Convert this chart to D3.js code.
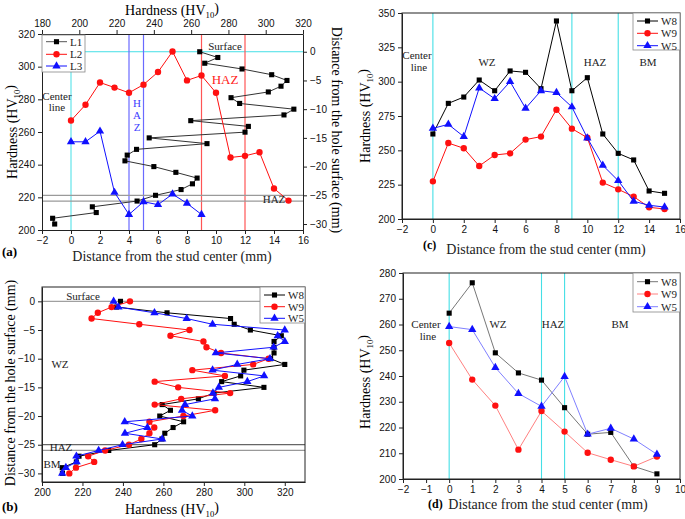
<!DOCTYPE html>
<html><head><meta charset="utf-8">
<script src="https://cdn.jsdelivr.net/npm/d3@7"></script>
<style>body{margin:0;background:#fff}svg{display:block}</style>
</head><body>
<svg id="chart" width="685" height="519"></svg>
<script>
// ---------------- DATA ----------------
// Panel (a)
const depthA_L1 = [0,-1,-2,-3,-4,-5,-6,-7,-8,-9,-10,-11,-12,-13,-14,-15,-16,-17,-18,-19,-20,-21,-22,-23,-24,-25,-26,-27,-28,-29,-30];
const hardA_L1 = [264.6,274.3,267.3,287.3,303.2,311.4,308.2,301.4,281.4,286,315.1,309.8,259.8,290.7,288.9,237.5,268.5,230.7,225.7,224.5,240,251.8,263.2,260.7,254.6,240.9,231,207,209.1,185.7,186.8];
const posA_L2 = [0,1,2,3,4,5,6,7,8,9,10,11,12,13,14,15];
const hardA_L2 = [267,276.7,290.3,287.2,284,289,296.7,309.3,291.6,294.6,284,244.4,245.4,247.6,225.4,218];
const posA_L3 = [0,1,2,3,4,5,6,7,8,9];
const hardA_L3 = [254,254,260.5,223,209.5,217.3,215.5,222,216.3,209.5];
const ticksA_bottom = [-2,0,2,4,6,8,10,12,14,16];
const ticksA_left = [200,220,240,260,280,300,320];
const ticksA_top = [180,200,220,240,260,280,300,320];
const ticksA_right = [0,-5,-10,-15,-20,-25,-30];

// Panel (b)
const depthB = [0,-1,-2,-3,-4,-5,-6,-7,-8,-9,-10,-11,-12,-13,-14,-15,-16,-17,-18,-19,-20,-21,-22,-23,-24,-25,-26,-27,-28,-29,-30];
const hardB_W8 = [238.8,236.8,261.8,293.2,295,303,318.3,314.7,314.7,314.7,313,320,299.8,298.2,288.8,309.7,285,277.3,259.4,263.5,258.2,270,264.8,260.7,259.3,255.7,233,218.3,217,210,210.1];
const hardB_W9 = [243.5,234.4,227.6,224.5,248.1,272.9,263.5,279.8,281.3,288.5,312,304.4,274.3,290.4,255.7,267.3,293,268.8,255.7,285.6,269.9,253.1,255.5,253.1,249.1,243,231.2,222.8,225.8,216.8,213.5];
const hardB_W5 = [235.4,237.8,255.6,271.5,284.3,320,316.5,320,314.5,285.9,312.7,296.5,284.3,309.8,301.5,287.4,284.5,285.5,270.7,269.2,274.3,240.9,252.1,241,259.4,239.8,228,217,217.1,211.8,210];
const ticksB_x = [200,220,240,260,280,300,320];
const ticksB_y = [0,-5,-10,-15,-20,-25,-30];

// Panel (c)
const posC = [0,1,2,3,4,5,6,7,8,9,10,11,12,13,14,15];
const hardC_W8 = [261.9,284.2,288.8,301.2,293.4,307.8,306.8,294.9,344.2,293.4,302.9,261.9,247.8,243,220.4,218.7];
const hardC_W9 = [227.4,255.3,251.5,238.6,246.6,247.8,257.8,260,279.6,265.8,259.2,226.5,221.6,216.3,208.5,207.3];
const hardC_W5 = [266,268.9,260,295.4,287.6,300,280.6,293.4,292,281.6,259,239.1,227.9,212.9,210,208.7];
const ticksC_x = [-2,0,2,4,6,8,10,12,14,16];
const ticksC_y = [200,225,250,275,300,325,350];

// Panel (d)
const posD = [0,1,2,3,4,5,6,7,8,9];
const hardD_W8 = [264.4,276.2,249,241.2,238.4,227.7,217.4,218.1,204.9,202];
const hardD_W9 = [252.8,238.6,228.5,211.4,226.4,218.4,210.2,207.5,204.9,208.7];
const hardD_W5 = [259.2,258,243.3,233.2,228.2,239.8,217.4,219.7,215.5,209.6];
const ticksD_x = [-2,-1,0,1,2,3,4,5,6,7,8,9,10];
const ticksD_y = [200,210,220,230,240,250,260,270,280];

const seriesNames = ["W8","W9","W5"];
const namesA = ["L1","L2","L3"];

// ---------------- STYLE ----------------
const SANS = "'Liberation Sans', Arial, sans-serif";
const SERIF = "'Liberation Serif', 'Times New Roman', serif";
const CYAN = "#45dfe6";
const svg = d3.select("#chart");

function styleAxis(g){
  g.selectAll("text").attr("font-family", SANS).attr("font-size", "10px").attr("fill","#111");
  g.selectAll("line").attr("stroke","#222");
  g.select(".domain").attr("stroke","#222");
}
function hvText(sel){
  sel.append("tspan").text("Hardness (HV");
  sel.append("tspan").attr("font-size","0.62em").attr("dy","0.4em").text("10");
  sel.append("tspan").attr("dy","-0.4em").text(")");
}
function label(x, y, txt, opts={}){
  return svg.append("text").attr("x",x).attr("y",y)
    .attr("text-anchor", opts.anchor || "middle")
    .attr("font-family", opts.family || SERIF)
    .attr("font-size", opts.size || "11px")
    .attr("fill", opts.fill || "#222")
    .text(txt);
}
const symSquare = d3.symbol().type(d3.symbolSquare).size(26);
const symCircle = d3.symbol().type(d3.symbolCircle).size(32);
const symTri = d3.symbol().type(d3.symbolTriangle).size(30);

function drawSeries(g, pts, color, lineColor, sym){
  const line = d3.line().x(d=>d[0]).y(d=>d[1]);
  g.append("path").attr("d", line(pts)).attr("fill","none").attr("stroke",lineColor).attr("stroke-width",1);
  g.selectAll(null).data(pts).enter().append("path")
    .attr("d", sym).attr("transform", d=>`translate(${d[0]},${d[1]})`).attr("fill", color);
}
function legend(x0, y0, w, h, ys, names, colors, lineColors, syms){
  const g = svg.append("g");
  g.append("rect").attr("x",x0).attr("y",y0).attr("width",w).attr("height",h)
    .attr("fill","#fff").attr("stroke","#888").attr("stroke-width",0.8);
  names.forEach((n,i)=>{
    g.append("line").attr("x1",x0+4).attr("x2",x0+25).attr("y1",ys[i]).attr("y2",ys[i])
      .attr("stroke",lineColors[i]).attr("stroke-width",1);
    g.append("path").attr("d",syms[i]).attr("transform",`translate(${x0+14.5},${ys[i]})`).attr("fill",colors[i]);
    g.append("text").attr("x",x0+28).attr("y",ys[i]+4).attr("font-family",SERIF).attr("font-size","11px")
      .attr("fill","#222").text(n);
  });
}

// ---------------- PANEL (a) ----------------
{
  const L=42, R=303, T=34, B=230;
  const x = d3.scaleLinear([-2,16],[L,R]);
  const y = d3.scaleLinear([200,320],[B,T]);
  const xTop = d3.scaleLinear([180,320],[L,R]);
  const yRight = d3.scaleLinear([-31.04,3.09],[B,T]);
  const g = svg.append("g");
  g.append("line").attr("x1",L).attr("x2",R).attr("y1",yRight(0)).attr("y2",yRight(0)).attr("stroke",CYAN).attr("stroke-width",1);
  g.append("line").attr("x1",x(0)).attr("x2",x(0)).attr("y1",yRight(0)).attr("y2",B).attr("stroke",CYAN).attr("stroke-width",1);
  [4,5].forEach(v=>g.append("line").attr("x1",x(v)).attr("x2",x(v)).attr("y1",T).attr("y2",B).attr("stroke","#6a6aff").attr("stroke-width",1.2));
  [9,12].forEach(v=>g.append("line").attr("x1",x(v)).attr("x2",x(v)).attr("y1",T).attr("y2",B).attr("stroke","#ff5555").attr("stroke-width",1.2));
  [-25,-26].forEach(v=>g.append("line").attr("x1",L).attr("x2",R).attr("y1",yRight(v)).attr("y2",yRight(v)).attr("stroke","#9a9a9a").attr("stroke-width",1.3));
  g.append("g").attr("transform",`translate(0,${B})`).call(d3.axisBottom(x).tickValues(ticksA_bottom).tickSize(4).tickSizeOuter(0)).call(styleAxis);
  g.append("g").attr("transform",`translate(${L},0)`).call(d3.axisLeft(y).tickValues(ticksA_left).tickSize(4).tickSizeOuter(0)).call(styleAxis);
  g.append("g").attr("transform",`translate(0,${T})`).call(d3.axisTop(xTop).tickValues(ticksA_top).tickSize(4).tickSizeOuter(0)).call(styleAxis);
  g.append("g").attr("transform",`translate(${R},0)`).call(d3.axisRight(yRight).tickValues(ticksA_right).tickSize(4).tickSizeOuter(0)).call(styleAxis);
  drawSeries(g, hardA_L1.map((h,i)=>[xTop(h), yRight(depthA_L1[i])]), "#000", "#333", symSquare);
  drawSeries(g, hardA_L2.map((h,i)=>[x(posA_L2[i]), y(h)]), "#ff1010", "#ff1010", symCircle);
  drawSeries(g, hardA_L3.map((h,i)=>[x(posA_L3[i]), y(h)]), "#1010ff", "#1010ff", symTri);
  label(57, 100, "Center"); label(57, 111, "line");
  label(137, 107, "H", {fill:"#4040ff"}); label(137, 119, "A", {fill:"#4040ff"}); label(137, 131, "Z", {fill:"#4040ff"});
  label(225, 84, "HAZ", {fill:"#ff2020", size:"13px"});
  label(225, 50, "Surface");
  label(274, 203, "HAZ");
  legend(42, 35, 43, 37, [41.7,54.3,66], namesA, ["#000","#ff1010","#1010ff"], ["#555","#ff1010","#1010ff"], [symSquare,symCircle,symTri]);
  svg.append("text").attr("x",172).attr("y",15).attr("text-anchor","middle").attr("font-family",SERIF).attr("font-size","14px").call(hvText);
  svg.append("text").attr("transform","translate(17,132) rotate(-90)").attr("text-anchor","middle").attr("font-family",SERIF).attr("font-size","14px").call(hvText);
  svg.append("text").attr("transform","translate(332,130) rotate(90)").attr("text-anchor","middle").attr("font-family",SERIF).attr("font-size","14px").text("Distance from the hole surface (mm)");
  label(172, 261, "Distance from the stud center (mm)", {size:"14px"});
  label(2, 256, "(a)", {anchor:"start", size:"13px", fill:"#000"}).attr("font-weight","bold");
}

// ---------------- PANEL (b) ----------------
{
  const L=42, R=305, T=287, B=482;
  const x = d3.scaleLinear([200,330],[L,R]);
  const y = d3.scaleLinear([-31.5,2.5],[B,T]);
  const g = svg.append("g");
  g.append("line").attr("x1",L).attr("x2",R).attr("y1",y(0)).attr("y2",y(0)).attr("stroke","#a0a0a0").attr("stroke-width",1.2);
  g.append("line").attr("x1",L).attr("x2",R).attr("y1",y(-25)).attr("y2",y(-25)).attr("stroke","#666").attr("stroke-width",1.2);
  g.append("line").attr("x1",L).attr("x2",R).attr("y1",y(-26)).attr("y2",y(-26)).attr("stroke","#999").attr("stroke-width",1.2);
  g.append("rect").attr("x",L).attr("y",T).attr("width",R-L).attr("height",B-T).attr("fill","none").attr("stroke","#222");
  g.append("g").attr("transform",`translate(0,${B})`).call(d3.axisBottom(x).tickValues(ticksB_x).tickSize(4).tickSizeOuter(0)).call(styleAxis);
  g.append("g").attr("transform",`translate(${L},0)`).call(d3.axisLeft(y).tickValues(ticksB_y).tickSize(4).tickSizeOuter(0)).call(styleAxis);
  label(83, 300, "Surface");
  label(60, 368, "WZ");
  label(61, 451, "HAZ");
  label(52, 468, "BM");
  drawSeries(g, hardB_W8.map((h,i)=>[x(h), y(depthB[i])]), "#000", "#000", symSquare);
  drawSeries(g, hardB_W9.map((h,i)=>[x(h), y(depthB[i])]), "#ff1010", "#ff1010", symCircle);
  drawSeries(g, hardB_W5.map((h,i)=>[x(h), y(depthB[i])]), "#1010ff", "#1010ff", symTri);
  legend(260, 287, 45, 36, [295,306.7,318.3], seriesNames, ["#000","#ff1010","#1010ff"], ["#000","#ff1010","#1010ff"], [symSquare,symCircle,symTri]);
  svg.append("text").attr("transform","translate(15,383) rotate(-90)").attr("text-anchor","middle").attr("font-family",SERIF).attr("font-size","14px").text("Distance from the hole surface (mm)");
  svg.append("text").attr("x",172).attr("y",514).attr("text-anchor","middle").attr("font-family",SERIF).attr("font-size","14px").call(hvText);
  label(2, 511, "(b)", {anchor:"start", size:"13px", fill:"#000"}).attr("font-weight","bold");
}

// ---------------- PANEL (c) ----------------
{
  const L=402, R=680, T=13, B=219;
  const x = d3.scaleLinear([-2,16],[L,R]);
  const y = d3.scaleLinear([200,350],[B,T]);
  const g = svg.append("g");
  [0,9,12].forEach(v=>g.append("line").attr("x1",x(v)).attr("x2",x(v)).attr("y1",T).attr("y2",B).attr("stroke",CYAN).attr("stroke-width",1.1));
  g.append("rect").attr("x",L).attr("y",T).attr("width",R-L).attr("height",B-T).attr("fill","none").attr("stroke","#222");
  g.append("g").attr("transform",`translate(0,${B})`).call(d3.axisBottom(x).tickValues(ticksC_x).tickSize(4).tickSizeOuter(0)).call(styleAxis);
  g.append("g").attr("transform",`translate(${L},0)`).call(d3.axisLeft(y).tickValues(ticksC_y).tickSize(4).tickSizeOuter(0)).call(styleAxis);
  label(417, 59, "Center"); label(419, 71, "line");
  label(487, 66, "WZ"); label(595, 66, "HAZ"); label(648, 66, "BM");
  drawSeries(g, hardC_W8.map((h,i)=>[x(posC[i]), y(h)]), "#000", "#000", symSquare);
  drawSeries(g, hardC_W9.map((h,i)=>[x(posC[i]), y(h)]), "#ff1010", "#ff1010", symCircle);
  drawSeries(g, hardC_W5.map((h,i)=>[x(posC[i]), y(h)]), "#1010ff", "#1010ff", symTri);
  legend(633, 13, 47, 37, [21,33.3,45.7], seriesNames, ["#000","#ff1010","#1010ff"], ["#000","#ff1010","#1010ff"], [symSquare,symCircle,symTri]);
  svg.append("text").attr("transform","translate(370,116) rotate(-90)").attr("text-anchor","middle").attr("font-family",SERIF).attr("font-size","14px").call(hvText);
  label(546, 254, "Distance from the stud center (mm)", {size:"14px"});
  label(423, 249, "(c)", {anchor:"start", size:"12px", fill:"#000"}).attr("font-weight","bold");
}

// ---------------- PANEL (d) ----------------
{
  const L=403, R=680, T=273, B=479;
  const x = d3.scaleLinear([-2,10],[L,R]);
  const y = d3.scaleLinear([200,280],[B,T]);
  const g = svg.append("g");
  [0,4,5].forEach(v=>g.append("line").attr("x1",x(v)).attr("x2",x(v)).attr("y1",T).attr("y2",B).attr("stroke",CYAN).attr("stroke-width",1.1));
  g.append("rect").attr("x",L).attr("y",T).attr("width",R-L).attr("height",B-T).attr("fill","none").attr("stroke","#222");
  g.append("g").attr("transform",`translate(0,${B})`).call(d3.axisBottom(x).tickValues(ticksD_x).tickSize(4).tickSizeOuter(0)).call(styleAxis);
  g.append("g").attr("transform",`translate(${L},0)`).call(d3.axisLeft(y).tickValues(ticksD_y).tickSize(4).tickSizeOuter(0)).call(styleAxis);
  label(426, 328, "Center"); label(428, 340, "line");
  label(498, 328, "WZ"); label(553, 328, "HAZ"); label(620, 328, "BM");
  drawSeries(g, hardD_W8.map((h,i)=>[x(posD[i]), y(h)]), "#000", "#777", symSquare);
  drawSeries(g, hardD_W9.map((h,i)=>[x(posD[i]), y(h)]), "#ff1010", "#ff8080", symCircle);
  drawSeries(g, hardD_W5.map((h,i)=>[x(posD[i]), y(h)]), "#1010ff", "#8080ff", symTri);
  legend(633, 273, 47, 39, [281.7,294,306.7], seriesNames, ["#000","#ff1010","#1010ff"], ["#777","#ff8080","#8080ff"], [symSquare,symCircle,symTri]);
  svg.append("text").attr("transform","translate(370,382) rotate(-90)").attr("text-anchor","middle").attr("font-family",SERIF).attr("font-size","14px").call(hvText);
  label(548, 509, "Distance from the stud center (mm)", {size:"14px"});
  label(428, 508, "(d)", {anchor:"start", size:"12px", fill:"#000"}).attr("font-weight","bold");
}
</script>
</body></html>
